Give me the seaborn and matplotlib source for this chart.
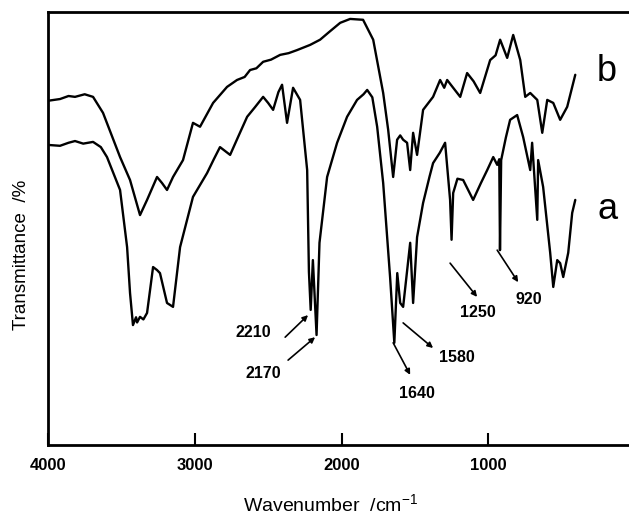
import matplotlib
matplotlib.use("Agg")
import matplotlib.pyplot as plt
import seaborn as sns
import pandas as pd

# FTIR spectra: wavenumber (cm^-1) and transmittance (arbitrary %)
wn_a = [4000, 3918, 3860, 3816, 3760, 3693, 3640, 3598, 3509, 3461, 3441, 3421,
        3400, 3393, 3373, 3350, 3325, 3284, 3257, 3237, 3189, 3148, 3100, 3012,
        2916, 2870, 2828, 2759, 2700, 2643, 2590, 2534, 2500, 2466, 2430, 2405,
        2371, 2330, 2282, 2234, 2222, 2210, 2195, 2170, 2150, 2098, 2030, 1962,
        1894, 1850, 1825, 1790, 1757, 1716, 1669, 1640, 1620, 1600, 1580, 1532,
        1512, 1485, 1444, 1400, 1376, 1330, 1294, 1260, 1250, 1239, 1210, 1171,
        1103, 1050, 1007, 966, 939, 925, 920, 912, 880, 851, 803, 762, 714, 701,
        666, 660, 626, 578, 557, 530, 510, 489, 455, 428, 407]
t_a = [69.3, 69.1, 69.8, 70.2, 69.6, 70.0, 68.8, 66.5, 58.9, 45.7, 35.1, 27.7,
       29.5, 28.3, 29.6, 29.0, 30.5, 41.1, 40.4, 39.7, 32.8, 31.9, 45.7, 57.3,
       62.8, 66.0, 68.8, 67.0, 71.5, 75.8, 78.0, 80.4, 79.0, 77.4, 81.5, 83.2,
       74.4, 82.5, 79.7, 63.5, 40.0, 31.2, 42.7, 25.4, 46.7, 61.9, 69.8, 75.8,
       79.7, 81.0, 82.0, 80.3, 73.5, 60.5, 38.8, 23.6, 39.7, 32.8, 31.9, 46.7,
       32.8, 48.0, 55.9, 62.0, 65.1, 67.5, 69.8, 56.6, 47.4, 58.2, 61.5, 61.2,
       56.6, 60.5, 63.5, 66.5, 64.7, 66.0, 45.0, 65.8, 71.0, 75.1, 76.2, 71.1,
       63.5, 69.8, 52.0, 65.8, 59.6, 44.4, 36.5, 42.7, 42.0, 38.8, 44.4, 53.6,
       56.6]

wn_b = [4000, 3918, 3860, 3816, 3750, 3693, 3625, 3509, 3441, 3373, 3325, 3257,
        3223, 3189, 3148, 3080, 3012, 2964, 2875, 2780, 2712, 2660, 2623, 2580,
        2534, 2480, 2418, 2360, 2303, 2214, 2146, 2080, 2009, 1941, 1853, 1784,
        1716, 1682, 1648, 1621, 1600, 1580, 1553, 1532, 1512, 1485, 1444, 1376,
        1328, 1300, 1280, 1239, 1191, 1144, 1100, 1055, 987, 950, 919, 871, 830,
        782, 748, 714, 666, 632, 598, 557, 510, 462, 407]
t_b = [79.5, 79.9, 80.6, 80.4, 81.0, 80.4, 76.7, 66.5, 61.2, 53.1, 56.6, 61.9,
       60.5, 58.9, 61.9, 65.8, 74.4, 73.5, 79.0, 82.7, 84.3, 85.0, 86.6, 87.0,
       88.5, 89.0, 90.1, 90.5, 91.2, 92.4, 93.6, 95.5, 97.5, 98.4, 98.2, 93.6,
       81.3, 72.8, 61.9, 70.5, 71.5, 70.5, 69.8, 63.5, 72.1, 67.0, 77.4, 80.4,
       84.3, 82.5, 84.3, 82.5, 80.4, 85.9, 84.0, 81.3, 88.9, 90.0, 93.6, 89.4,
       94.7, 88.9, 80.4, 81.3, 79.7, 72.1, 79.7, 79.0, 75.1, 78.1, 85.5]

series_names = ["a", "b"]
x_ticks = [4000, 3000, 2000, 1000, 0]

# band assignments: (label, text pos, arrow tail, arrow head)
band_labels = ["2210", "2170", "1640", "1580", "1250", "920"]
band_text = [(2603, 25.9), (2534, 16.6), (1485, 12.0), (1212, 20.1), (1069, 30.5), (721, 33.5)]
band_tail = [(2384, 24.9), (2364, 19.6), (1648, 23.6), (1580, 28.2), (1260, 42.0), (939, 45.0)]
band_head = [(2228, 30.0), (2180, 24.9), (1532, 16.2), (1376, 22.4), (1076, 34.2), (796, 37.6)]

sns.set_style("ticks")
plt.rcParams["font.family"] = ["Liberation Sans", "DejaVu Sans"]
plt.rcParams["mathtext.fontset"] = "custom"
plt.rcParams["mathtext.rm"] = "Liberation Sans"
plt.rcParams["text.color"] = "black"
plt.rcParams["axes.labelcolor"] = "black"

df = pd.concat([
    pd.DataFrame({"wavenumber": wn_a, "T": t_a, "sample": series_names[0]}),
    pd.DataFrame({"wavenumber": wn_b, "T": t_b, "sample": series_names[1]}),
])

fig = plt.figure(figsize=(6.29, 5.15), dpi=100)
ax = fig.add_axes([48 / 629, 70 / 515, 587 / 629, 433 / 515])

sns.lineplot(data=df, x="wavenumber", y="T", units="sample", estimator=None,
             sort=False, color="black", linewidth=1.7, ax=ax, legend=False)

ax.set_xlim(4000, 0)
ax.set_ylim(0, 100)
ax.set_xticks(x_ticks)
ax.set_xticklabels([str(v) for v in x_ticks], fontsize=12, fontweight="bold")
ax.set_yticks([])
ax.tick_params(axis="x", direction="in", length=9, width=1.5, pad=9,
               colors="black", labelcolor="black")
for side in ["left", "bottom", "top", "right"]:
    ax.spines[side].set_linewidth(2)
    ax.spines[side].set_color("black")

ax.set_xlabel("Wavenumber  /cm$^{-1}$", fontsize=14, color="black")
ax.xaxis.set_label_coords(0.482, -0.113)
ax.set_ylabel("Transmittance  /%", fontsize=13.5, color="black")
ax.yaxis.set_label_coords(-0.031, 0.44)

ax.text(190, 86.2, "b", fontsize=26, ha="center", va="center", color="black")
ax.text(190, 54.3, "a", fontsize=26, ha="center", va="center", color="black")

for lab, tp, tail, head in zip(band_labels, band_text, band_tail, band_head):
    ax.text(tp[0], tp[1], lab, fontsize=11.5, fontweight="bold", ha="center",
            va="center", color="black")
    ax.annotate("", xy=head, xytext=tail,
                arrowprops=dict(arrowstyle="-|>", color="black", lw=1.2,
                                mutation_scale=8, shrinkA=0, shrinkB=0))

fig.savefig("out.png", dpi=100)
